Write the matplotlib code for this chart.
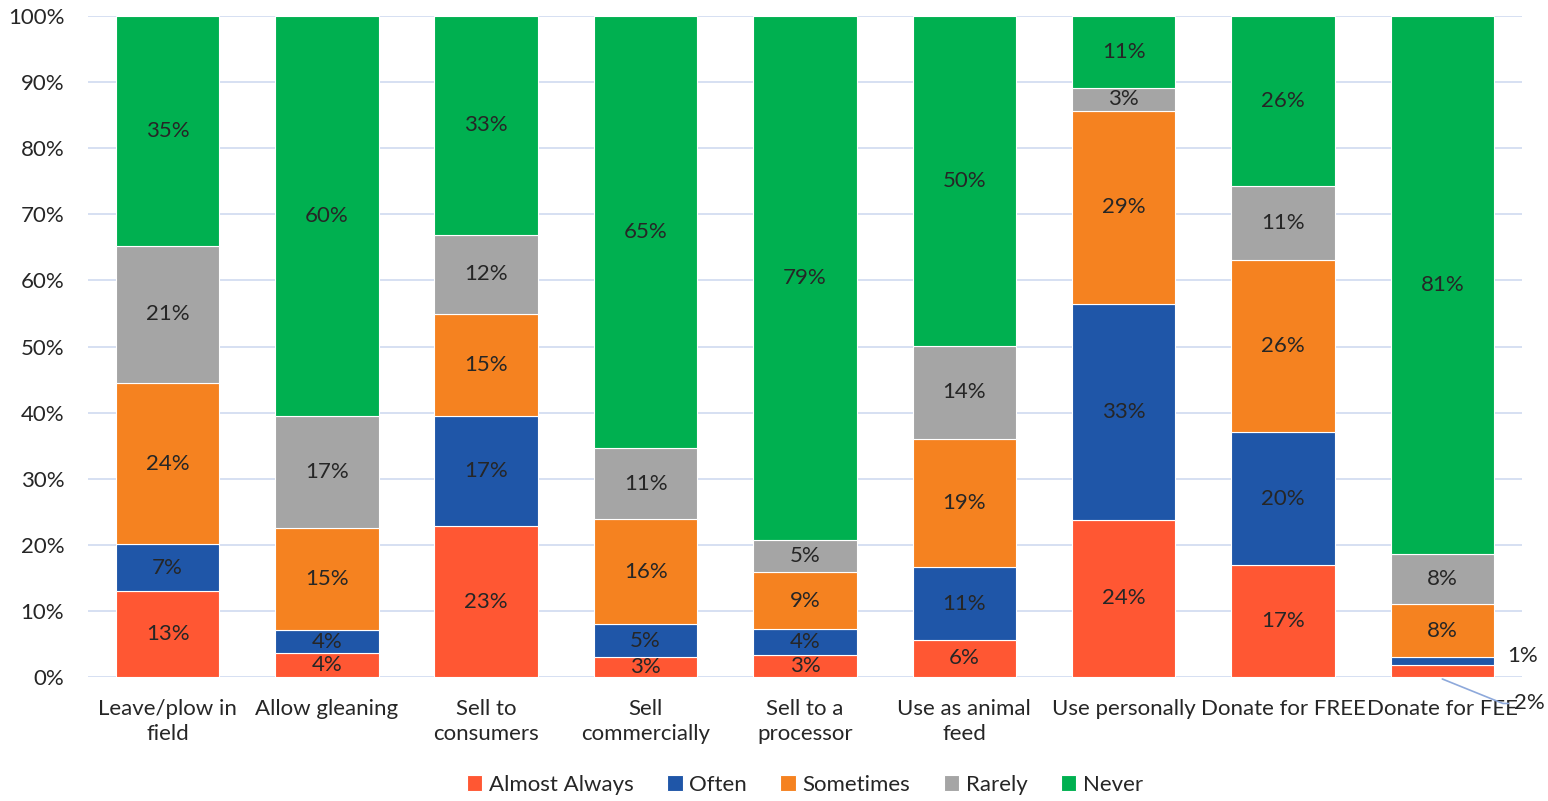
import matplotlib.pyplot as plt
import numpy as np

plt.rcParams['font.family'] = ['Lato', 'DejaVu Sans']

categories = ['Leave/plow in\nfield', 'Allow gleaning', 'Sell to\nconsumers', 'Sell\ncommercially',
              'Sell to a\nprocessor', 'Use as animal\nfeed', 'Use personally', 'Donate for FREE',
              'Donate for FEE']
series = ['Almost Always', 'Often', 'Sometimes', 'Rarely', 'Never']
almost_always = [13.0, 3.6, 22.8, 3.0, 3.3, 5.6, 23.8, 16.9, 1.8]
often = [7.1, 3.5, 16.7, 5.0, 3.9, 11.0, 32.6, 20.2, 1.2]
sometimes = [24.4, 15.4, 15.4, 15.9, 8.7, 19.4, 29.3, 26.0, 8.0]
rarely = [20.7, 17.0, 12.0, 10.7, 4.9, 14.1, 3.4, 11.2, 7.6]
never = [34.8, 60.5, 33.1, 65.4, 79.2, 49.9, 10.9, 25.7, 81.4]
colors = ['#FF5733', '#1F56A8', '#F58220', '#A5A5A5', '#00B050']

data = np.array([almost_always, often, sometimes, rarely, never]) / 100.0

fig = plt.figure(figsize=(15.48, 8.01), dpi=100)
ax = fig.add_axes([0.0568, 0.1548, 0.9264, 0.8252])

x = np.arange(len(categories))
bottom = np.zeros(len(categories))
for i, (name, vals) in enumerate(zip(series, data)):
    ax.bar(x, vals, 0.65, bottom=bottom, color=colors[i], label=name,
           edgecolor='white', linewidth=0.8, zorder=2)
    for j, v in enumerate(vals):
        if j == 8 and i in (0, 1):
            continue
        ax.text(x[j], bottom[j] + v / 2, f'{round(v * 100):.0f}%', ha='center', va='center',
                fontsize=16, color='#262626', zorder=3)
    bottom += vals

# outside labels for the thin segments of the last bar
ax.text(8.41, 0.032, f'{round(data[1, 8] * 100):.0f}%',
        ha='left', va='center', fontsize=16, color='#262626')
ax.annotate(f'{round(data[0, 8] * 100):.0f}%', xy=(8.0, -0.003), xytext=(8.45, -0.04),
            ha='left', va='center', fontsize=16, color='#262626', annotation_clip=False,
            arrowprops=dict(arrowstyle='-', color='#8EA9DB', lw=1.2,
                            connectionstyle='angle,angleA=0,angleB=-22,rad=0',
                            shrinkA=2, shrinkB=0))

ax.set_xlim(-0.5, 8.5)
ax.set_ylim(0, 1.0)
ticks = np.arange(0, 1.01, 0.1)
ax.set_yticks(ticks)
ax.set_yticklabels([f'{int(round(t * 100))}%' for t in ticks])
ax.set_xticks(x)
ax.set_xticklabels(categories, linespacing=1.3)
ax.tick_params(axis='both', length=0, labelsize=16, colors='#262626')
ax.tick_params(axis='y', pad=17)
ax.tick_params(axis='x', pad=16)
ax.grid(axis='y', color='#D0DAF0', linewidth=1.2, zorder=0)
ax.set_axisbelow(True)
for s in ax.spines.values():
    s.set_visible(False)

ax.legend(loc='upper center', bbox_to_anchor=(0.5, -0.124), ncol=5, frameon=False,
          fontsize=16, handlelength=0.7, handleheight=0.7, handletextpad=0.3,
          columnspacing=1.5, labelcolor='#262626', borderpad=0.2)

fig.savefig('out.png', dpi=100)
